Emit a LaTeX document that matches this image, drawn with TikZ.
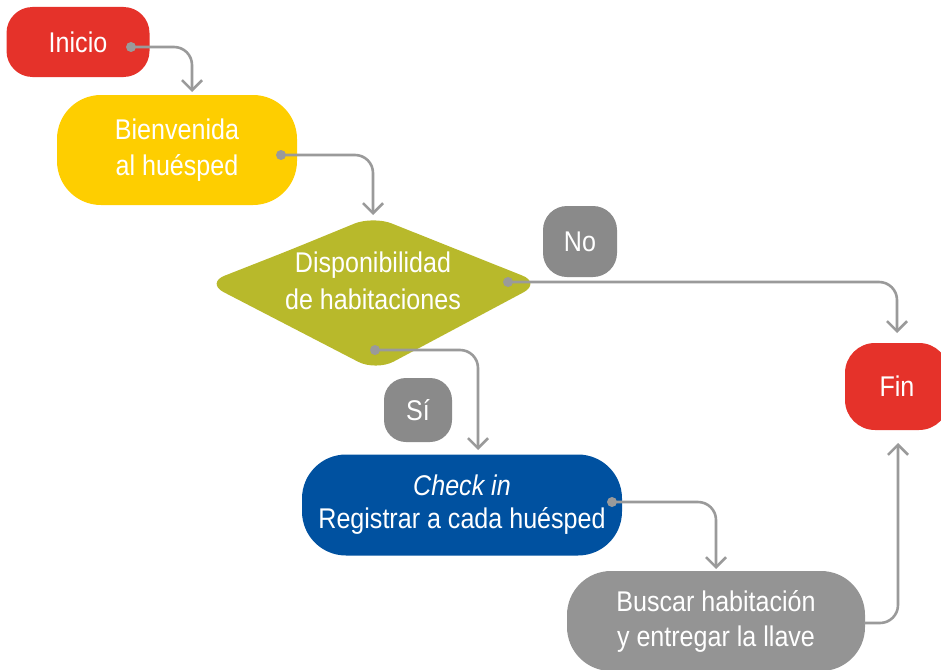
\documentclass[tikz,border=0pt]{standalone}
\usepackage{fontspec}
\setmainfont{Liberation Sans}[FakeStretch=0.88]
\usetikzlibrary{arrows.meta}
\definecolor{cred}{HTML}{E5322A}
\definecolor{cyellow}{HTML}{FECE00}
\definecolor{colive}{HTML}{B8B92B}
\definecolor{cblue}{HTML}{0051A0}
\definecolor{cgraylab}{HTML}{8A8A8A}
\definecolor{cgraybox}{HTML}{949494}
\definecolor{cline}{HTML}{9A9A9A}
\begin{document}
\begin{tikzpicture}[x=1pt,y=-1pt,
  box/.style={text=white, align=center, inner sep=0pt,
    font=\fontsize{28.5}{36.5}\selectfont},
  conn/.style={draw=cline, line width=2.6pt, rounded corners=18pt,
    -{Straight Barb[length=10pt,width=20pt]}},
  dotc/.style={fill=cline}]
\useasboundingbox (0,0) rectangle (941,669);
% nodes
\node[box, fill=cred, rounded corners=26pt, minimum width=143pt, minimum height=70pt] (inicio) at (78,42) {Inicio};
\node[box, fill=cyellow, rounded corners=44pt, minimum width=240pt, minimum height=110pt] (bien) at (177,150) {Bienvenida\\al huésped};
\fill[colive, rounded corners=20pt] (290,250) -- (373,216) -- (541,283) -- (376,371) -- (206,283) -- cycle;
\node[box] (disp) at (373,281) {Disponibilidad\\de habitaciones};
\node[box, fill=cgraylab, rounded corners=24pt, minimum width=74pt, minimum height=71pt] (no) at (580,241.5) {No};
\node[box, fill=cgraylab, rounded corners=22pt, minimum width=68pt, minimum height=64pt] (si) at (418,410) {Sí};
\node[box, fill=cred, rounded corners=30pt, minimum width=104pt, minimum height=87pt] (fin) at (897,386.5) {Fin};
\node[box, fill=cblue, rounded corners=44pt, minimum width=320pt, minimum height=101pt,
  font=\fontsize{28.5}{33}\selectfont] (check) at (462,505) {\textit{Check in}\\Registrar a cada huésped};
\node[box, fill=cgraybox, rounded corners=44pt, minimum width=298pt, minimum height=100pt,
  font=\fontsize{28.5}{35}\selectfont] (busc) at (716,621) {Buscar habitación\\y entregar la llave};
% connector points
\coordinate (d1) at (131,47);
\coordinate (t1) at (192,92);
\coordinate (d2) at (281,155);
\coordinate (t2) at (373,215);
\coordinate (d3) at (508,282);
\coordinate (t3) at (897,333);
\coordinate (d4) at (375,350);
\coordinate (t4) at (478,450);
\coordinate (d5) at (612,502);
\coordinate (t5) at (716,569);
\coordinate (s6) at (864,623);
\coordinate (t6) at (898,443);
% connectors
\draw[conn] (d1) -| (t1);
\draw[conn] (d2) -| (t2);
\draw[conn] (d3) -| (t3);
\draw[conn] (d4) -| (t4);
\draw[conn] (d5) -| (t5);
\draw[conn] (s6) -| (t6);
\foreach \p in {d1,d2,d3,d4,d5} \fill[dotc] (\p) circle (5pt);
\end{tikzpicture}
\end{document}
